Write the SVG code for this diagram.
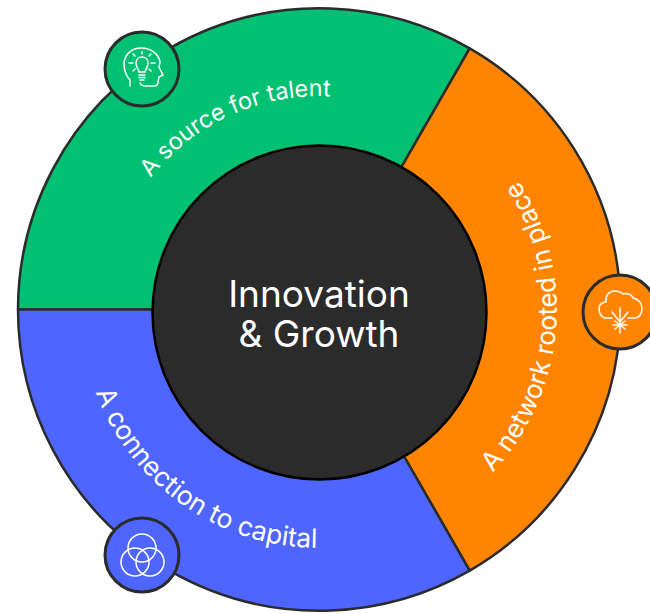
<svg xmlns="http://www.w3.org/2000/svg" width="650" height="614" viewBox="0 0 650 614">
<style>
.seg{stroke:#2b2b2b;stroke-width:2.500;stroke-linejoin:round}
.lbl{font-family:Inter,"Liberation Sans",sans-serif;fill:#fff}
.ctr{font-family:Inter,"Liberation Sans",sans-serif;font-size:37px;fill:#fff;text-anchor:middle}
.badge{stroke:#2b2b2b;stroke-width:3}
.ico{fill:none;stroke:#fff;stroke-width:1.500;stroke-linecap:round;stroke-linejoin:round}
</style>
<defs>
<path id="pg" d="M105 310A214 214 0 0 1 392 109"/>
<path id="po" d="M438 516A238 238 0 0 0 438 104"/>
<path id="pb" d="M81 310A238 238 0 0 0 438 516"/>
</defs>
<g id="talent">
<path class="seg" fill="#00c072" d="M18 309.500A301.500 301.500 0 0 1 469.700 48.400L319.500 309.500Z"/>
<text class="lbl" font-size="23.500"><textPath href="#pg" startOffset="142">A source for talent</textPath></text>
<circle class="badge" cx="142" cy="69" r="37" fill="#00c072"/>
<g class="ico">
<path d="M130 86V80C126 76 124 70 124 63C125 54 132 48 141 48C152 48 159 55 160 62L159 67L163 75L159 77L158 82C158 85 156 86 154 86H146C143 86 141 85 140 83"/>
<path d="M139 72C138 68 136 67 136 63C136 59 139 57 142 57C145 57 148 59 148 63C148 67 146 68 145 72Z"/>
<path d="M139 75H145M139 77.500H145M140 80H144M142 52V54M133 54L135 56M151 54L149 56M129 63H133M151 63H155M133 71L135 69M151 71L149 69"/>
</g>
</g>
<g id="network">
<path class="seg" fill="#ff8500" d="M469.700 48.400A301.500 301.500 0 0 1 469.700 570.600L319.500 309.500Z"/>
<text class="lbl" font-size="26"><textPath href="#po" startOffset="70">A network rooted in place</textPath></text>
<circle class="badge" cx="620" cy="312" r="37" fill="#ff8500"/>
<g class="ico">
<path d="M612 318H605C601 317 599 313 599 308C599 305 602 302 606 302C605 296 609 291 614 291C618 291 621 292 623 294C626 293 632 294 633 298C638 299 642 303 642 308C642 314 639 318 635 318H628"/>
<path d="M620 308V333M612 312L620 322L628 312M613 325H627M615 329L625 321M615 321L625 329"/>
</g>
</g>
<g id="capital">
<path class="seg" fill="#4e66ff" d="M18 309.500L319.500 309.500L469.700 570.600A301.500 301.500 0 0 1 18 309.500Z"/>
<text class="lbl" font-size="26.500"><textPath href="#pb" startOffset="84">A connection to capital</textPath></text>
<circle class="badge" cx="142" cy="555" r="37" fill="#4e66ff"/>
<g class="ico">
<circle cx="142" cy="548" r="14"/><circle cx="135" cy="562" r="14"/><circle cx="150" cy="562" r="14"/>
</g>
</g>
<g id="center">
<circle cx="319.500" cy="312.500" r="167" fill="#2b2b2b" stroke="#000" stroke-width="2.500"/>
<text class="ctr" x="319" y="307">Innovation</text>
<text class="ctr" x="319" y="347">&amp; Growth</text>
</g>
</svg>
